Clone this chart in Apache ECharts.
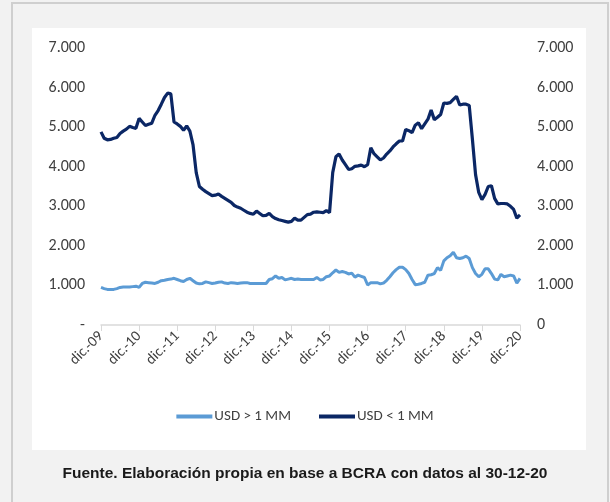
<!DOCTYPE html>
<html>
<head>
<meta charset="utf-8">
<script src="https://cdn.jsdelivr.net/npm/echarts@6/dist/echarts.min.js"></script>
<style>
  html, body { margin:0; padding:0; background:#f2f2f2; }
  #main { width:610px; height:502px; }
</style>
</head>
<body>
<div id="main"></div>
<script>
// meses (dic.-09 ... dic.-20)
var meses = ['ene.','feb.','mar.','abr.','may.','jun.','jul.','ago.','sep.','oct.','nov.','dic.'];
var anioInicio = 2009, anioFin = 2020;

// USD > 1 MM
var mayores = [
  950, 920, 900, 900, 900, 920, 950, 960, 960, 960, 970, 980,
  950, 1050, 1080, 1070, 1060, 1050, 1080, 1120, 1130, 1150, 1160, 1180,
  1150, 1120, 1100, 1150, 1180, 1120, 1060, 1040, 1050, 1090, 1070, 1050,
  1060, 1080, 1090, 1060, 1050, 1070, 1060, 1050, 1060, 1070, 1070, 1050,
  1050, 1050, 1050, 1050, 1050, 1150, 1170, 1240, 1180, 1200, 1140, 1160,
  1180, 1150, 1160, 1150, 1150, 1150, 1150, 1150, 1200, 1140, 1150, 1220,
  1240, 1320, 1390, 1330, 1350, 1330, 1290, 1310, 1210, 1260, 1230, 1200,
  1010, 1070, 1070, 1070, 1040, 1060, 1130, 1220, 1320, 1400, 1460, 1460,
  1400, 1300, 1150, 1020, 1030, 1050, 1080, 1260, 1270, 1300, 1450, 1380,
  1620, 1700, 1750, 1840, 1700, 1680, 1700, 1740, 1680, 1450, 1300, 1220,
  1280, 1420, 1420, 1300, 1160, 1140, 1280, 1220, 1240, 1260, 1240, 1060,
  1180
];

// USD < 1 MM
var menores = [
  4880, 4720, 4680, 4690, 4720, 4740, 4840, 4900, 4950, 5020, 4990, 4970,
  5220, 5130, 5040, 5070, 5100, 5300, 5420, 5580, 5750, 5860, 5840, 5130,
  5080, 5020, 4920, 5030, 4900, 4550, 3850, 3500, 3430, 3370, 3320, 3270,
  3280, 3310, 3250, 3200, 3150, 3100, 3020, 2980, 2950, 2900, 2850, 2820,
  2800, 2880, 2820, 2760, 2770, 2820, 2740, 2690, 2660, 2640, 2620, 2600,
  2620, 2700, 2650, 2650, 2720, 2790, 2800, 2850, 2860, 2850, 2840, 2890,
  2840, 3850, 4250, 4320, 4170, 4050, 3930, 3950, 4010, 4020, 4040, 4000,
  4050, 4480, 4330, 4250, 4170, 4220, 4320, 4400, 4500, 4580, 4650, 4650,
  4940, 4910, 4860, 5050, 5110, 4960, 5080, 5200, 5430, 5190, 5250, 5320,
  5610, 5600, 5620, 5700, 5780, 5560, 5580, 5580, 5550, 4700, 3800, 3350,
  3170, 3300, 3500, 3520, 3200, 3060, 3070, 3070, 3060, 3000, 2920, 2700,
  2780
];

var yTicks = [0, 1000, 2000, 3000, 4000, 5000, 6000, 7000];

// categorias mensuales
var categorias = [];
for (var a = anioInicio; a <= anioFin; a++) {
    for (var m = 0; m < 12; m++) {
        if (a === anioInicio && m < 11) continue;
        categorias.push(meses[m] + '-' + String(a).slice(2));
    }
}

function miles(v) {
    return String(v).replace(/\B(?=(\d{3})+(?!\d))/g, '.');
}

var fuente = 'Carlito, "Liberation Sans Narrow", "Open Sans", sans-serif';
var myChart = echarts.init(document.getElementById('main'));
var option = {
    backgroundColor: '#f2f2f2',
    animation: false,
    graphic: [
        { type: 'rect', shape: {x: 12, y: 3, width: 596, height: 500}, style: {fill: 'none', stroke: '#cfcfcf', lineWidth: 2}, silent: true },
        { type: 'rect', shape: {x: 32, y: 28, width: 554, height: 422}, style: {fill: '#ffffff'}, z: -1, silent: true }
    ],
    title: {
        text: 'Fuente. Elaboración propia en base a BCRA con datos al 30-12-20',
        left: 'center',
        top: 461,
        textStyle: { fontFamily: '"Liberation Sans", Arial, sans-serif', fontSize: 15.5, fontWeight: 'bold', color: '#1a1a1a' }
    },
    legend: {
        bottom: 73,
        left: 'center',
        itemWidth: 36,
        itemHeight: 4,
        itemGap: 28,
        icon: 'rect',
        textStyle: { fontFamily: fuente, fontSize: 15, color: '#404040', padding: [0, 0, 0, -3] },
        data: ['USD > 1 MM', 'USD < 1 MM']
    },
    grid: { left: 101, right: 90, top: 48, bottom: 177 },
    xAxis: {
        type: 'category',
        boundaryGap: false,
        data: categorias,
        axisLine: { lineStyle: { color: '#d9d9d9', width: 1.5 } },
        axisTick: {
            length: 6,
            interval: function (i) { return i % 12 === 0; },
            lineStyle: { color: '#d9d9d9' }
        },
        axisLabel: {
            interval: function (i) { return i % 12 === 0; },
            rotate: 45,
            margin: 9,
            fontFamily: fuente,
            fontSize: 15,
            color: '#404040'
        }
    },
    yAxis: [
        {
            type: 'value', min: 0, max: 7000, interval: 1000,
            axisLine: { show: false }, axisTick: { show: false }, splitLine: { show: false },
            axisLabel: {
                margin: 16, fontFamily: fuente, fontSize: 16, color: '#404040',
                formatter: function (v) { return v === 0 ? '-' : miles(v); }
            }
        },
        {
            type: 'value', min: 0, max: 7000, interval: 1000, position: 'right',
            axisLine: { show: false }, axisTick: { show: false }, splitLine: { show: false },
            axisLabel: {
                margin: 17, fontFamily: fuente, fontSize: 16, color: '#404040',
                formatter: function (v) { return miles(v); }
            }
        }
    ],
    series: [
        {
            name: 'USD > 1 MM',
            type: 'line',
            data: mayores,
            symbol: 'none',
            lineStyle: { color: '#5b9bd5', width: 3 },
            itemStyle: { color: '#5b9bd5' }
        },
        {
            name: 'USD < 1 MM',
            type: 'line',
            data: menores,
            symbol: 'none',
            lineStyle: { color: '#0b2765', width: 3.2 },
            itemStyle: { color: '#0b2765' }
        }
    ]
};
myChart.setOption(option);
</script>
</body>
</html>
